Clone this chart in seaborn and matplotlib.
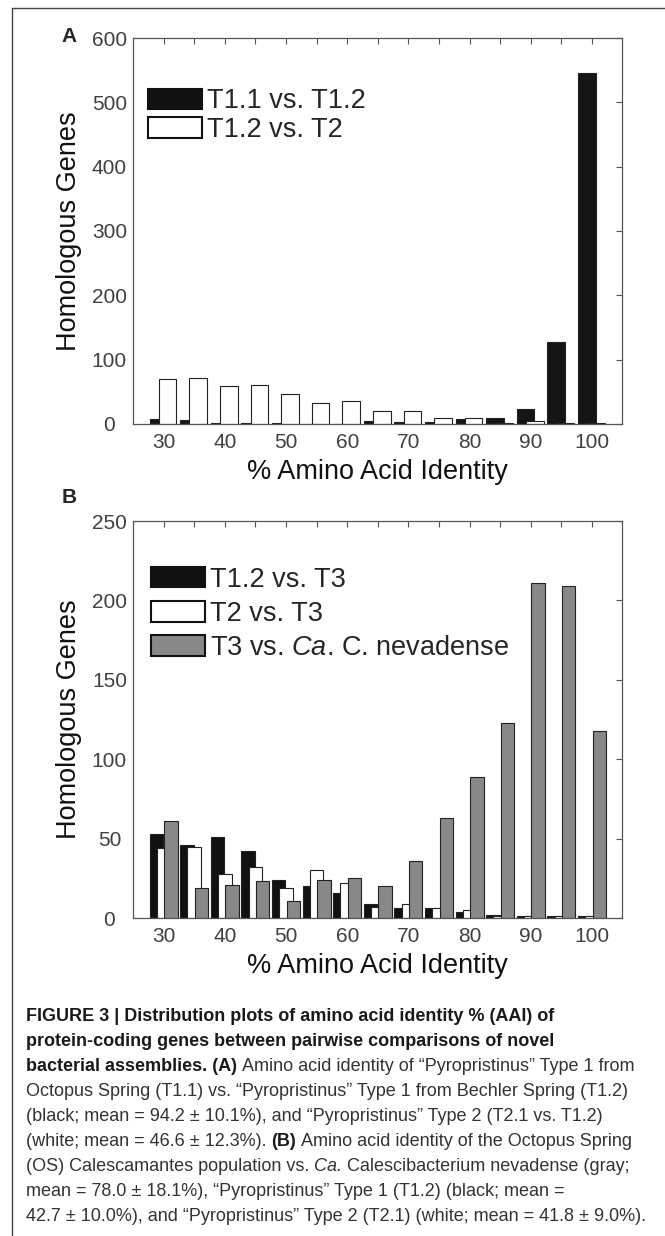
import matplotlib
matplotlib.use("Agg")
import pandas as pd
import matplotlib.pyplot as plt
from matplotlib.lines import Line2D
from matplotlib.patches import Patch
from matplotlib.ticker import MultipleLocator
import seaborn as sns

# --- data ---
identity_bins = [30, 35, 40, 45, 50, 55, 60, 65, 70, 75, 80, 85, 90, 95, 100]

# panel A
a_t11_vs_t12 = [7, 6, 2, 2, 1, 0, 0, 4, 3, 3, 8, 10, 24, 127, 546]
a_t12_vs_t2 = [70, 72, 59, 61, 46, 33, 35, 20, 20, 9, 9, 1, 4, 1, 1]

# panel B
b_t12_vs_t3 = [53, 46, 51, 42, 24, 20, 16, 9, 6, 6, 4, 2, 1, 1, 1]
b_t2_vs_t3 = [44, 45, 28, 32, 19, 30, 22, 7, 9, 6, 5, 1, 1, 1, 1]
b_t3_vs_nevadense = [61, 19, 21, 23, 11, 24, 25, 20, 36, 63, 89, 123, 211, 209, 118]

legend_a = ["T1.1 vs. T1.2", "T1.2 vs. T2"]
legend_b = ["T1.2 vs. T3", "T2 vs. T3", "T3 vs. $\\it{Ca}$. C. nevadense"]

caption = [
    [("FIGURE 3 | Distribution plots of amino acid identity % (AAI) of", "bold")],
    [("protein-coding genes between pairwise comparisons of novel", "bold")],
    [("bacterial assemblies. (A)", "bold"),
     ("Amino acid identity of \u201cPyropristinus\u201d Type 1 from", "normal")],
    [("Octopus Spring (T1.1) vs. \u201cPyropristinus\u201d Type 1 from Bechler Spring (T1.2)", "normal")],
    [("(black; mean = 94.2 \u00b1 10.1%), and \u201cPyropristinus\u201d Type 2 (T2.1 vs. T1.2)", "normal")],
    [("(white; mean = 46.6 \u00b1 12.3%).", "normal"), ("(B)", "bold"),
     ("Amino acid identity of the Octopus Spring", "normal")],
    [("(OS) Calescamantes population vs.", "normal"), ("Ca.", "italic"),
     ("Calescibacterium nevadense (gray;", "normal")],
    [("mean = 78.0 \u00b1 18.1%), \u201cPyropristinus\u201d Type 1 (T1.2) (black; mean =", "normal")],
    [("42.7 \u00b1 10.0%), and \u201cPyropristinus\u201d Type 2 (T2.1) (white; mean = 41.8 \u00b1 9.0%).", "normal")],
]

sns.set_theme(style="white")
plt.rcParams["font.family"] = ["Liberation Sans", "DejaVu Sans"]
plt.rcParams["mathtext.fontset"] = "custom"
plt.rcParams["mathtext.rm"] = "Liberation Sans"
plt.rcParams["mathtext.it"] = "Liberation Sans:italic"

W, H = 665, 1236
fig = plt.figure(figsize=(W / 100, H / 100), dpi=100)
fig.patch.set_facecolor("white")


def px_box(left, top, right, bottom):
    return [left / W, 1 - bottom / H, (right - left) / W, (bottom - top) / H]


ax_a = fig.add_axes(px_box(133, 38, 622, 424))
ax_b = fig.add_axes(px_box(133, 521, 622, 918))


def draw_bars(ax, values, offset, width, face):
    df = pd.DataFrame({"pos": [b + offset for b in identity_bins], "count": values})
    sns.barplot(data=df, x="pos", y="count", native_scale=True, width=width / 5,
                color=face, saturation=1, edgecolor="#222222", linewidth=0.8,
                errorbar=None, ax=ax)


def style_axes(ax, ymax, ystep):
    ax.set_xlim(25, 104.9)
    ax.set_ylim(0, ymax)
    ax.xaxis.set_major_locator(MultipleLocator(10))
    ax.set_xticks(identity_bins, minor=True)
    ax.yaxis.set_major_locator(MultipleLocator(ystep))
    ax.tick_params(which="both", direction="in", top=True, right=True,
                   length=4.3, width=0.8, color="#555555")
    ax.tick_params(axis="x", labelsize=15, pad=6.5, labelcolor="#404040")
    ax.tick_params(axis="y", labelsize=15, pad=17, labelcolor="#404040")
    plt.setp(ax.get_yticklabels(), ha="center")
    for s in ax.spines.values():
        s.set_color("#555555")
        s.set_linewidth(0.9)
    ax.set_xlabel("% Amino Acid Identity", fontsize=19.5, labelpad=5, color="#111111")
    ax.set_ylabel("Homologous Genes", fontsize=19.5, labelpad=7, color="#111111")


# --- panel A ---
draw_bars(ax_a, a_t11_vs_t12, -0.85, 2.85, "#151515")
draw_bars(ax_a, a_t12_vs_t2, 0.65, 2.85, "white")
style_axes(ax_a, 600, 100)
handles_a = [Patch(facecolor="#111111", edgecolor="#111111", lw=1.5, label=legend_a[0]),
             Patch(facecolor="white", edgecolor="#111111", lw=1.5, label=legend_a[1])]
ax_a.legend(handles=handles_a, loc="upper left", bbox_to_anchor=(0.03, 0.87),
            frameon=False, fontsize=19.5, handlelength=2.0, handleheight=0.78,
            handletextpad=0.18, labelspacing=0.1, borderpad=0, borderaxespad=0)

# --- panel B ---
draw_bars(ax_b, b_t12_vs_t3, -1.2, 2.2, "#111111")
draw_bars(ax_b, b_t2_vs_t3, 0.0, 2.2, "white")
draw_bars(ax_b, b_t3_vs_nevadense, 1.2, 2.2, "#888888")
style_axes(ax_b, 250, 50)
handles_b = [Patch(facecolor="#111111", edgecolor="#111111", lw=1.5, label=legend_b[0]),
             Patch(facecolor="white", edgecolor="#111111", lw=1.5, label=legend_b[1]),
             Patch(facecolor="#888888", edgecolor="#111111", lw=1.5, label=legend_b[2])]
ax_b.legend(handles=handles_b, loc="upper left", bbox_to_anchor=(0.036, 0.885),
            frameon=False, fontsize=19.5, handlelength=2.0, handleheight=0.78,
            handletextpad=0.18, labelspacing=0.3, borderpad=0, borderaxespad=0)

fig.text(69 / W, 1 - 37 / H, "A", fontsize=15, weight="bold", ha="center", va="center")
fig.text(69 / W, 1 - 497 / H, "B", fontsize=15, weight="bold", ha="center", va="center")

# page frame (top and left edges)
fig.add_artist(Line2D([12 / W, 1], [1 - 8 / H, 1 - 8 / H], transform=fig.transFigure,
                      color="#444444", lw=1))
fig.add_artist(Line2D([12 / W, 12 / W], [0, 1 - 8 / H], transform=fig.transFigure,
                      color="#444444", lw=1))

# --- caption ---
renderer = fig.canvas.get_renderer()
cap_size = 13
space_px = 0.28 * cap_size * 100 / 72
for i, parts in enumerate(caption):
    y = 1 - (1021 + i * 25) / H
    x_px = 26
    for txt, kind in parts:
        t = fig.text(x_px / W, y, txt, fontsize=cap_size, va="baseline", ha="left",
                     weight="bold" if kind == "bold" else "normal",
                     style="italic" if kind == "italic" else "normal",
                     color="#1a1a1a" if kind == "bold" else "#333333")
        bb = t.get_window_extent(renderer)
        x_px = bb.x1 + space_px

fig.savefig("out.png", dpi=100)
